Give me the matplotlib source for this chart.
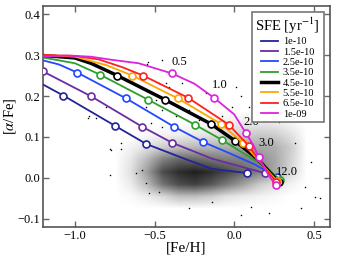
import numpy as np
import matplotlib
matplotlib.use("Agg")
import matplotlib.pyplot as plt
from matplotlib.colors import LinearSegmentedColormap

plt.rcParams["font.family"] = ["Liberation Serif", "DejaVu Serif"]
plt.rcParams["mathtext.fontset"] = "stix"

# SFE labels and colours
sfe_labels = ["1e-10", "1.5e-10", "2.5e-10", "3.5e-10", "4.5e-10", "5.5e-10", "6.5e-10", "1e-09"]
sfe_colors = ["#23239a", "#6b2ca3", "#2348ff", "#2e9e2e", "black", "orange", "#ff2020", "#dd22dd"]

# track shapes ([Fe/H], [alpha/Fe])
track_feh = [
    [-1.2, -1.072, -0.747, -0.553, -0.3, -0.14, 0.078],
    [-1.2, -0.897, -0.578, -0.391, -0.14, 0.028, 0.191],
    [-1.2, -1.1, -0.984, -0.678, -0.378, -0.197, -0.034, 0.134, 0.266],
    [-1.2, -1.0, -0.841, -0.541, -0.247, -0.078, 0.1, 0.2, 0.29],
    [-1.2, -1.0, -0.9, -0.734, -0.434, -0.147, 0.003, 0.15, 0.278],
    [-1.2, -1.0, -0.8, -0.641, -0.353, -0.084, 0.053, 0.17, 0.27],
    [-1.2, -1.0, -0.847, -0.7, -0.572, -0.291, -0.034, 0.091, 0.19, 0.265],
    [-1.2, -1.05, -0.9, -0.78, -0.6, -0.39, -0.25, -0.128, 0.0, 0.072, 0.12, 0.153, 0.21, 0.259],
]
track_afe = [
    [0.228, 0.201, 0.127, 0.083, 0.045, 0.022, 0.012],
    [0.26, 0.199, 0.125, 0.086, 0.047, 0.029, 0.012],
    [0.287, 0.277, 0.257, 0.194, 0.125, 0.088, 0.061, 0.032, 0.002],
    [0.294, 0.28, 0.252, 0.191, 0.130, 0.093, 0.05, 0.025, -0.005],
    [0.299, 0.293, 0.28, 0.25, 0.191, 0.132, 0.091, 0.045, -0.01],
    [0.30, 0.296, 0.275, 0.25, 0.194, 0.132, 0.086, 0.035, -0.008],
    [0.30, 0.298, 0.289, 0.27, 0.25, 0.196, 0.130, 0.078, 0.025, -0.01],
    [0.296, 0.299, 0.296, 0.289, 0.28, 0.255, 0.23, 0.196, 0.155, 0.110, 0.08, 0.051, 0.01, -0.017],
]

# open-circle time markers (0.5, 1, 2, 3, 12 Gyr)
mark_feh = [
    [-1.072, -0.747, -0.553, 0.078],
    [-1.2, -0.897, -0.578, -0.391, 0.191],
    [-0.984, -0.678, -0.378, -0.197, 0.266],
    [-0.841, -0.541, -0.247, -0.078, 0.29],
    [-0.734, -0.434, -0.147, 0.003, 0.278],
    [-0.641, -0.353, -0.084, 0.053, 0.27],
    [-0.572, -0.291, -0.034, 0.091, 0.265],
    [-0.39, -0.128, 0.072, 0.153, 0.259],
]
mark_afe = [
    [0.201, 0.127, 0.083, 0.012],
    [0.26, 0.199, 0.125, 0.086, 0.012],
    [0.257, 0.194, 0.125, 0.088, 0.002],
    [0.252, 0.191, 0.130, 0.093, -0.005],
    [0.25, 0.191, 0.132, 0.091, -0.01],
    [0.25, 0.194, 0.132, 0.086, -0.008],
    [0.25, 0.196, 0.130, 0.078, -0.01],
    [0.255, 0.196, 0.110, 0.051, -0.017],
]

time_labels = ["0.5", "1.0", "2.0", "3.0", "12.0"]
time_label_x = [-0.347, -0.09, 0.109, 0.203, 0.328]
time_label_y = [0.282, 0.228, 0.137, 0.086, 0.015]

# star cloud: rough density
# columns: [Fe/H] -0.75 .. 0.45 (step 0.1), rows: [a/Fe] 0.195 .. -0.075 (step 0.03)
dens_x = (-0.8, 0.5)
dens_y = (-0.09, 0.21)
density = np.array([
    [0, 0, 0, 0, 0, 0, 0, 0, 0, 0, 0, 0, 0],
    [0, 0, 0, 0, 0, 0, 0, 0, 0, 0, 0, 0, 0],
    [0, 0, 0, 0, 0, 0.02, 0.04, 0.06, 0.08, 0.09, 0.08, 0.04, 0],
    [0, 0, 0.03, 0.05, 0.07, 0.09, 0.12, 0.15, 0.2, 0.22, 0.2, 0.12, 0],
    [0, 0.05, 0.12, 0.2, 0.25, 0.28, 0.3, 0.32, 0.35, 0.35, 0.32, 0.2, 0],
    [0, 0.1, 0.28, 0.5, 0.6, 0.6, 0.55, 0.5, 0.5, 0.45, 0.35, 0.18, 0],
    [0, 0.12, 0.38, 0.7, 0.82, 0.88, 0.82, 0.72, 0.6, 0.5, 0.35, 0.15, 0],
    [0, 0.08, 0.27, 0.55, 0.7, 0.75, 0.66, 0.52, 0.38, 0.22, 0.12, 0.05, 0],
    [0, 0.02, 0.08, 0.15, 0.25, 0.25, 0.2, 0.12, 0.08, 0.05, 0.03, 0, 0],
    [0, 0, 0, 0, 0, 0, 0, 0, 0, 0, 0, 0, 0],
])

# isolated stars
star_feh = [-0.541, -0.453, -0.428, -0.491, -0.909, -0.866, -0.803, -0.553, -0.453, -0.522,
            -0.453, -0.709, -0.772, -0.778, -0.616, -0.553, -0.534, -0.472, -0.578, -0.916,
            -0.778, -0.709, 0.509, 0.541, 0.416, 0.447, 0.384, 0.484, 0.216, 0.103,
            0.041, -0.141, -0.284, 0.009, 0.041, 0.172, 0.216, 0.278, -0.078, 0.091,
            -0.547, -0.472, -0.409, -0.328, -0.178, -0.016, -0.284, -0.366, -0.297, -0.222]
star_afe = [0.282, 0.289, 0.233, 0.191, 0.150, 0.147, 0.174, 0.174, 0.167, 0.135,
            0.125, 0.086, 0.069, 0.007, 0.012, -0.012, -0.037, -0.034, 0.020, 0.147,
            0.071, 0.071, -0.047, -0.049, -0.074, -0.022, 0.086, 0.039, -0.086, -0.071,
            -0.091, -0.059, -0.074, 0.223, 0.199, 0.167, 0.147, 0.137, 0.150, 0.174,
            0.277, 0.233, 0.223, 0.233, 0.208, 0.174, 0.167, 0.150, 0.142, 0.142]

fig = plt.figure(figsize=(3.39, 2.58), dpi=100)
ax = fig.add_axes([0.127, 0.12, 0.846, 0.857])

# transparent -> black so empty cells show nothing
cloud_cmap = LinearSegmentedColormap.from_list("cloud", [(0, 0, 0, 0), (0, 0, 0, 1)])
ax.imshow(density, extent=[dens_x[0], dens_x[1], dens_y[0], dens_y[1]], cmap=cloud_cmap,
          vmin=0, vmax=1, interpolation="bilinear", aspect="auto", zorder=1)
ax.scatter(star_feh, star_afe, s=1.2, c="black", linewidths=0, zorder=2)

for i in range(len(sfe_labels)):
    lw = 2.5 if sfe_colors[i] == "black" else 1.3
    ax.plot(track_feh[i], track_afe[i], color=sfe_colors[i], lw=lw, label=sfe_labels[i], zorder=3 + i)
    ax.plot(mark_feh[i], mark_afe[i], "o", ms=5, mfc="white", mec=sfe_colors[i], mew=1.2,
            ls="none", zorder=3 + i)

for t, tx, ty in zip(time_labels, time_label_x, time_label_y):
    ax.text(tx, ty, t, fontsize=9, ha="center", va="center", zorder=20)

ax.set_xlim(-1.2, 0.6)
ax.set_ylim(-0.12, 0.42)
ax.set_xticks([-1.0, -0.5, 0.0, 0.5])
ax.set_yticks([-0.1, 0.0, 0.1, 0.2, 0.3, 0.4])
ax.tick_params(direction="in", top=True, right=True, labelsize=9, color="#666666",
               length=4, width=1, pad=2)
for s in ax.spines.values():
    s.set_color("#555555")
    s.set_linewidth(1.2)
ax.set_xlabel("[Fe/H]", fontsize=11, labelpad=0)
ax.set_ylabel(r"[$\alpha$/Fe]", fontsize=10.5, labelpad=0)

leg = ax.legend(title=r"SFE [yr$^{-1}$]", fontsize=7.5, title_fontsize=10.5, loc="upper right",
                fancybox=False, framealpha=1, edgecolor="#777777", handlelength=1.6,
                labelspacing=0.1, borderpad=0.35, handletextpad=0.5, borderaxespad=0.6)
leg.get_frame().set_linewidth(1.2)
leg.set_zorder(30)

fig.savefig("out.png", dpi=100)
